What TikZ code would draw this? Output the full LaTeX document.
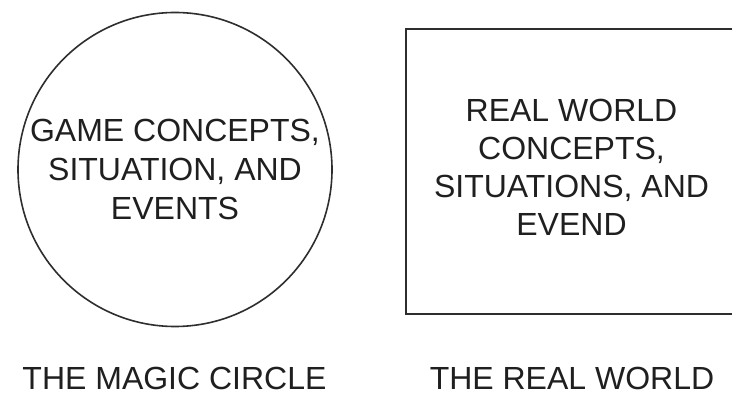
\documentclass[tikz,border=0pt]{standalone}
\usepackage{fontspec}
\setmainfont{Liberation Sans}
\begin{document}
\begin{tikzpicture}[x=1pt,y=-1pt,
  outline/.style={draw=black!82, line width=1.6pt, inner sep=0pt},
  label/.style={text=black!88, font=\fontsize{32}{39}\selectfont, align=center, inner sep=0pt},
  caption/.style={text=black!88, font=\fontsize{32}{39}\selectfont, inner sep=0pt, anchor=base}]
\useasboundingbox (0,0) rectangle (732,403);
\clip (0,0) rectangle (732,403);
\fill[white] (0,0) rectangle (732,403);
% magic circle
\node[outline, circle, minimum size=314pt] (magic) at (175,169.5) {};
\node[label] (magictext) at (magic.center) {GAME CONCEPTS,\\SITUATION, AND\\EVENTS};
% real world box (runs past right edge)
\node[outline, rectangle, minimum width=336pt, minimum height=285pt, anchor=north west] (realbox) at (405,28) {};
\node[label, font=\fontsize{32}{38}\selectfont] (realtext) at (571.5,167.5) {REAL WORLD\\CONCEPTS,\\SITUATIONS, AND\\EVEND};
% captions
\node[caption] (magiccap) at (174.5,390) {THE MAGIC CIRCLE};
\node[caption] (realcap) at (572,390) {THE REAL WORLD};
\end{tikzpicture}
\end{document}
